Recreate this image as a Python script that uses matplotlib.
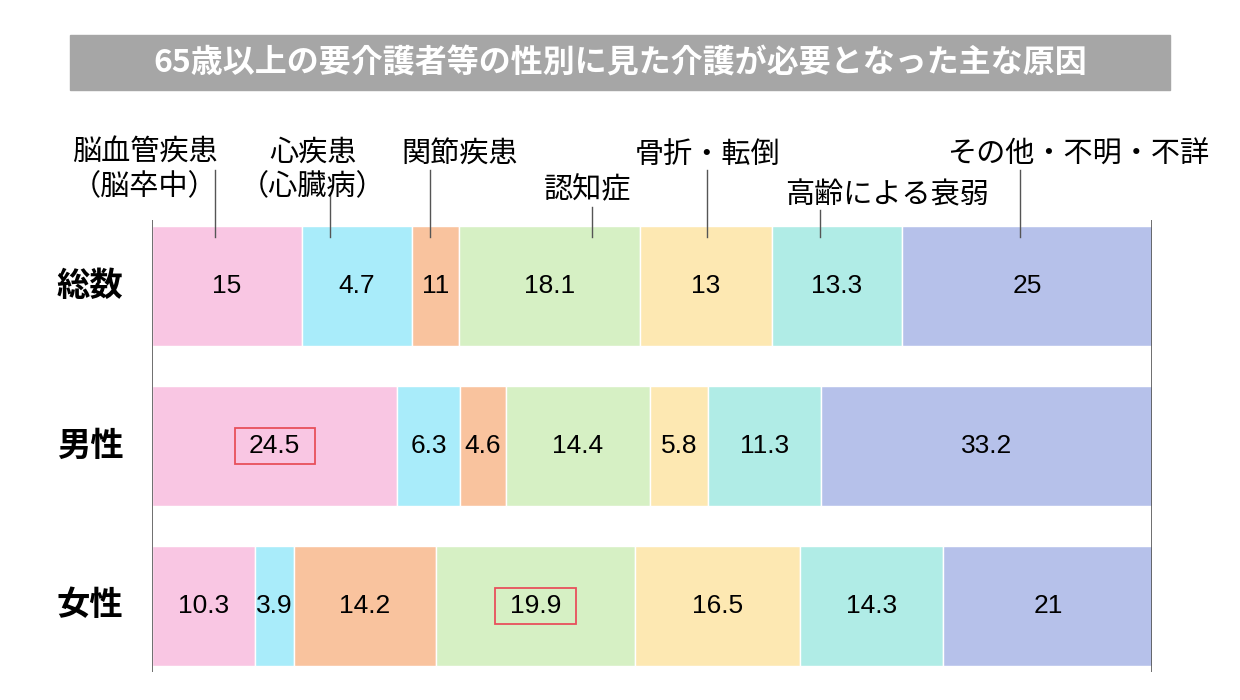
import matplotlib
matplotlib.use("Agg")
import matplotlib.pyplot as plt
from matplotlib.patches import Rectangle

plt.rcParams["font.family"] = "Noto Sans CJK JP"

title = "65歳以上の要介護者等の性別に見た介護が必要となった主な原因"
rows = ["総数", "男性", "女性"]
causes = ["脳血管疾患\n（脳卒中）", "心疾患\n（心臓病）", "関節疾患", "認知症",
          "骨折・転倒", "高齢による衰弱", "その他・不明・不詳"]
total = [15, 11, 4.7, 18.1, 13.2, 13.0, 25]
total_labels = ["15", "4.7", "11", "18.1", "13", "13.3", "25"]
male = [24.5, 6.3, 4.6, 14.4, 5.8, 11.3, 33.2]
female = [10.3, 3.9, 14.2, 19.9, 16.5, 14.3, 21]
highlight = {1: 0, 2: 3}  # row index -> highlighted segment
colors = ["#f9c6e3", "#a9ecfa", "#f9c39e", "#d6f0c4", "#fde8b2", "#b0ece6", "#b6c1ea"]

W, H = 1240, 700
fig = plt.figure(figsize=(12.4, 7), dpi=100)


def fx(x):
    return x / W


def fy(y):
    return 1 - y / H


ax = fig.add_axes([fx(152), fy(680), fx(1000), (680 - 215) / H])
ax.set_xlim(0, 100)
ax.set_ylim(680, 215)
ax.axis("off")

centers = [286, 446, 606]
data = [total, male, female]
labels = [total_labels, [f"{v:g}" for v in male], [f"{v:g}" for v in female]]
for r, (vals, labs, cy) in enumerate(zip(data, labels, centers)):
    left = 0
    for i, (v, lab) in enumerate(zip(vals, labs)):
        ax.barh(cy, v, left=left, height=120, color=colors[i], edgecolor="white", linewidth=1)
        xc = left + v / 2
        ax.text(xc, cy, lab, ha="center", va="center", fontsize=19,
                family=["Liberation Sans Narrow", "Liberation Sans"])
        if highlight.get(r) == i:
            ax.add_patch(Rectangle((xc - 4, cy - 18), 8, 36, fill=False,
                                   edgecolor="#e8505b", linewidth=1.3))
        left += v
    fig.text(fx(90), fy(cy), rows[r], ha="center", va="center", fontsize=24, weight="bold")

ax.vlines([0, 100], 220, 672, color="#555555", linewidth=1.2)

# title box
fig.patches.append(Rectangle((fx(70), fy(90)), fx(1100), 55 / H, color="#a6a6a6",
                             transform=fig.transFigure))
fig.text(fx(620), fy(63), title, ha="center", va="center", fontsize=23,
         weight="bold", color="white")

# cause labels with leader lines
label_pos = [(145, 170, 215, 170), (313, 170, 330, 195), (460, 155, 430, 170),
             (588, 190, 592, 207), (708, 155, 707, 170), (887, 195, 820, 210),
             (1078, 155, 1020, 170)]
for name, (tx, ty, lx, ly) in zip(causes, label_pos):
    fig.text(fx(tx), fy(ty), name, ha="center", va="center", fontsize=21, linespacing=1.2)
    fig.add_artist(plt.Line2D([fx(lx), fx(lx)], [fy(ly), fy(237)], color="#555555",
                              linewidth=1, transform=fig.transFigure))

fig.savefig("out.png", dpi=100)
